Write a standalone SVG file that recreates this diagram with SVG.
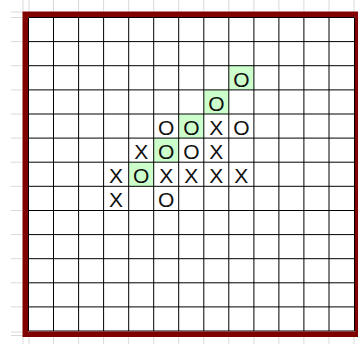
<svg xmlns="http://www.w3.org/2000/svg" width="358" height="344" viewBox="0 0 358 344">
<style>
.faint{stroke:#d9d9d9;stroke-width:1;fill:none}
.grid{stroke:#000;stroke-width:1;fill:none}
.hl{fill:#ccffcc}
.m{font-family:"Liberation Sans",Arial,sans-serif;font-size:21px;fill:#111;text-anchor:middle}
</style>
<rect width="358" height="344" fill="#fff"/>
<g id="faint-lines">
<path class="faint" d="M23,0V11.5M29,0V11.5M53.5,0V11.5M78.6,0V11.5M103.6,0V11.5M128.7,0V11.5M153.7,0V11.5M178.7,0V11.5M203.8,0V11.5M228.8,0V11.5M253.9,0V11.5M278.9,0V11.5M303.9,0V11.5M329,0V11.5M354,0V11.5"/>
<path class="faint" d="M23,337V344M29,337V344M53.5,337V344M78.6,337V344M103.6,337V344M128.7,337V344M153.7,337V344M178.7,337V344M203.8,337V344M228.8,337V344M253.9,337V344M278.9,337V344M303.9,337V344M329,337V344M354,337V344"/>
<path class="faint" d="M11,12H22.5M11,17.5H22.5M11,41.6H22.5M11,65.7H22.5M11,89.9H22.5M11,114H22.5M11,138.1H22.5M11,162.2H22.5M11,186.3H22.5M11,210.5H22.5M11,234.6H22.5M11,258.7H22.5M11,282.8H22.5M11,306.9H22.5M11,332H22.5M11,335.5H22.5"/>
</g>
<g id="highlights">
<rect class="hl" x="228.8" y="65.7" width="25.04" height="24.12"/>
<rect class="hl" x="203.8" y="89.9" width="25.04" height="24.12"/>
<rect class="hl" x="178.7" y="114" width="25.04" height="24.12"/>
<rect class="hl" x="153.7" y="138.1" width="25.04" height="24.12"/>
<rect class="hl" x="128.7" y="162.2" width="25.04" height="24.12"/>
</g>
<g id="grid">
<path class="grid" d="M28.5,17.5V331M53.5,17.5V331M78.6,17.5V331M103.6,17.5V331M128.7,17.5V331M153.7,17.5V331M178.7,17.5V331M203.8,17.5V331M228.8,17.5V331M253.9,17.5V331M278.9,17.5V331M303.9,17.5V331M329,17.5V331M354.5,17.5V331"/>
<path class="grid" d="M28.5,17.5H354.5M28.5,41.6H354.5M28.5,65.7H354.5M28.5,89.9H354.5M28.5,114H354.5M28.5,138.1H354.5M28.5,162.2H354.5M28.5,186.3H354.5M28.5,210.5H354.5M28.5,234.6H354.5M28.5,258.7H354.5M28.5,282.8H354.5M28.5,306.9H354.5M28.5,331H354.5"/>
</g>
<g id="frame">
<path fill="#800000" fill-rule="evenodd" d="M22.5,11.5H360V337H22.5Z M28,17H355V331.5H28Z"/>
</g>
<g id="marks">
<g id="r2c8"><text class="m" x="241.3" y="86.7">O</text></g>
<g id="r3c7"><text class="m" x="216.3" y="110.9">O</text></g>
<g id="r4c5"><text class="m" x="166.2" y="135">O</text></g>
<g id="r4c6"><text class="m" x="191.3" y="135">O</text></g>
<g id="r4c7"><text class="m" x="216.3" y="135">X</text></g>
<g id="r4c8"><text class="m" x="241.3" y="135">O</text></g>
<g id="r5c4"><text class="m" x="141.2" y="159.1">X</text></g>
<g id="r5c5"><text class="m" x="166.2" y="159.1">O</text></g>
<g id="r5c6"><text class="m" x="191.3" y="159.1">O</text></g>
<g id="r5c7"><text class="m" x="216.3" y="159.1">X</text></g>
<g id="r6c3"><text class="m" x="116.1" y="183.2">X</text></g>
<g id="r6c4"><text class="m" x="141.2" y="183.2">O</text></g>
<g id="r6c5"><text class="m" x="166.2" y="183.2">X</text></g>
<g id="r6c6"><text class="m" x="191.3" y="183.2">X</text></g>
<g id="r6c7"><text class="m" x="216.3" y="183.2">X</text></g>
<g id="r6c8"><text class="m" x="241.3" y="183.2">X</text></g>
<g id="r7c3"><text class="m" x="116.1" y="207.3">X</text></g>
<g id="r7c5"><text class="m" x="166.2" y="207.3">O</text></g>
</g>
</svg>
